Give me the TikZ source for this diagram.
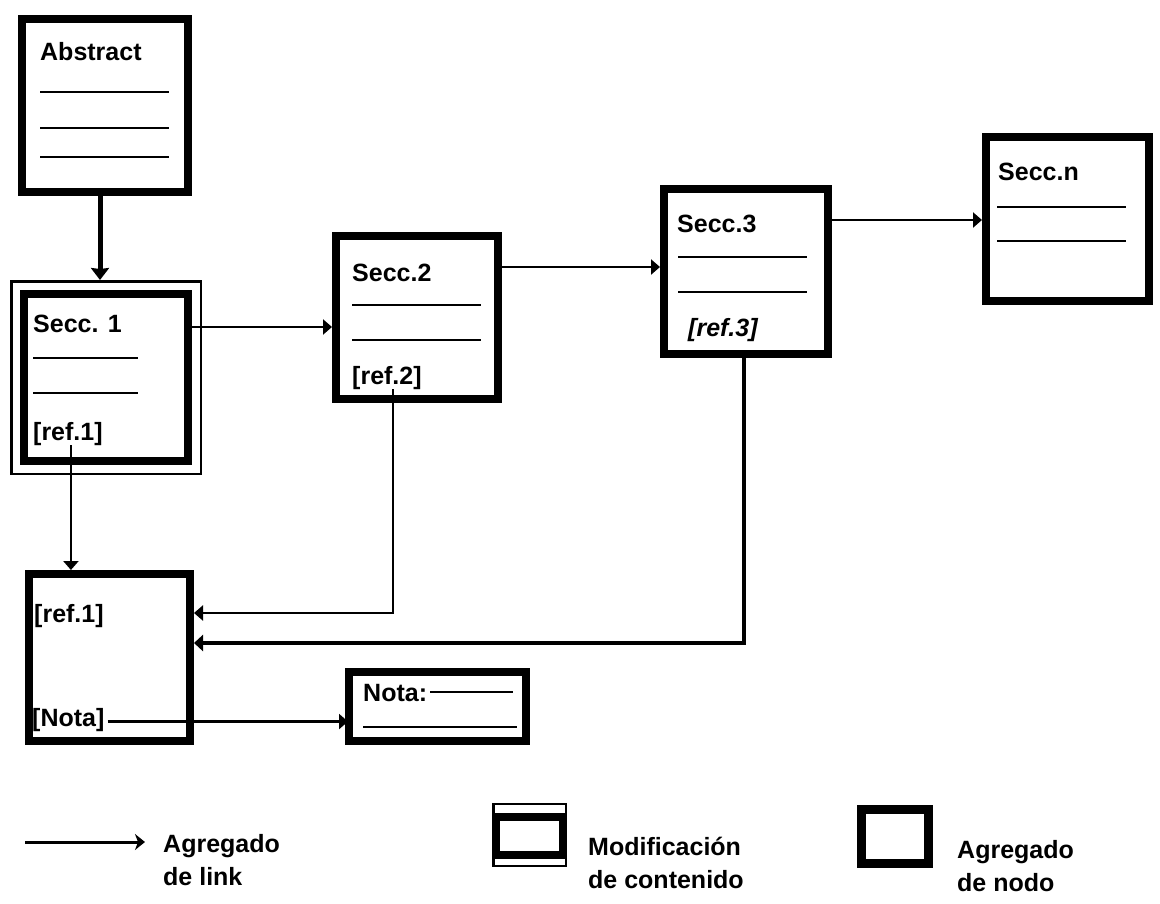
\documentclass[tikz,border=0pt]{standalone}
\usepackage{fontspec}
\setmainfont{Liberation Sans}
\usetikzlibrary{arrows.meta}
\begin{document}
\begin{tikzpicture}[x=1pt,y=-1pt,
  pagebox/.style={draw, line width=8pt, inner sep=0pt},
  thinframe/.style={draw, line width=2.5pt, inner sep=0pt},
  lbl/.style={anchor=base west, inner sep=0pt, font=\fontsize{25}{30}\selectfont\bfseries},
  legendtxt/.style={anchor=base west, inner sep=0pt, align=left,
    font=\fontsize{25}{33}\selectfont\bfseries},
  rule/.style={line width=2.5pt},
  link/.style={line width=2.5pt, -{Triangle[length=9pt,width=15pt]}},
  boldlink/.style={line width=4pt, line join=miter, -{Triangle[length=9pt,width=16pt]}},
  mainlink/.style={line width=5pt, -{Stealth[length=12pt,width=18pt,inset=1pt]}}
]
\useasboundingbox (0,0) rectangle (1160,903);

% ---------- boxes ----------
\node[pagebox, minimum width=166pt, minimum height=173pt] (abs) at (105,105.5) {};
\node[thinframe, minimum width=189.5pt, minimum height=192.5pt] (s1frame) at (106,377.5) {};
\node[pagebox, minimum width=164pt, minimum height=167pt] (s1) at (106,377.5) {};
\node[pagebox, minimum width=162pt, minimum height=163pt] (s2) at (417,317.5) {};
\node[pagebox, minimum width=164pt, minimum height=165pt] (s3) at (746,271.5) {};
\node[pagebox, minimum width=163pt, minimum height=164pt] (sn) at (1067.5,219) {};
\node[pagebox, minimum width=161pt, minimum height=167pt] (rb) at (109.5,657.5) {};
\node[pagebox, minimum width=177pt, minimum height=69pt] (nota) at (437.5,706.5) {};

% ---------- box contents ----------
\node[lbl] (tAbs) at (40,60) {Abstract};
\draw[rule] (40,92) -- (169,92);
\draw[rule] (40,128) -- (169,128);
\draw[rule] (40,157) -- (169,157);

\node[lbl] (tS1) at (33,332) {Secc. 1};
\draw[rule] (33,358) -- (138,358);
\draw[rule] (33,393) -- (138,393);
\node[lbl] (r1a) at (33,440) {[ref.1]};

\node[lbl] (tS2) at (352,281) {Secc.2};
\draw[rule] (352,305) -- (481,305);
\draw[rule] (352,340) -- (481,340);
\node[lbl] (r2) at (352,384) {[ref.2]};

\node[lbl] (tS3) at (677,232) {Secc.3};
\draw[rule] (678,257) -- (807,257);
\draw[rule] (678,292) -- (807,292);
\node[lbl, font=\fontsize{25}{30}\selectfont\bfseries\itshape] (r3) at (688,336) {[ref.3]};

\node[lbl] (tSn) at (998,180) {Secc.n};
\draw[rule] (997,207) -- (1126,207);
\draw[rule] (997,241) -- (1126,241);

\node[lbl] (r1b) at (34,622) {[ref.1]};
\node[lbl] (nt) at (32,726) {[Nota]};

\node[lbl] (tNota) at (363,701) {Nota:};
\draw[rule] ([xshift=3pt,yshift=9pt]tNota.base east) -- (513,692);
\draw[rule] (363,727) -- (517,727);

% ---------- connectors ----------
\draw[mainlink] ([xshift=-5pt]abs.south) -- ([xshift=-6pt]s1frame.north);
\draw[link] ([yshift=50.5pt]s1.east) -- ([yshift=50.5pt]s1.east -| s2.west);
\draw[link] ([yshift=50.5pt]s2.east) -- ([yshift=50.5pt]s2.east -| s3.west);
\draw[link] ([yshift=51.5pt]s3.east) -- ([yshift=51.5pt]s3.east -| sn.west);
\draw[link] ([xshift=3pt]r1a.south) -- ([xshift=3pt]r1a.south |- rb.north);
\draw[link] ([xshift=6pt]r2.south) |- ([yshift=44.5pt]rb.east);
\draw[boldlink] ([xshift=-2pt]s3.south) |- ([yshift=14.5pt]rb.east);
\draw[link] ([xshift=3pt,yshift=-2pt]nt.east) -- ([xshift=3pt,yshift=-2pt]nt.east -| nota.west);

% ---------- legend ----------
\coordinate (lgA) at (25,842);
\coordinate (lgB) at (145,842);
\draw[line width=3pt, -{Stealth[length=10pt,width=16pt,inset=3pt]}] (lgA) -- (lgB);
\node[legendtxt] (lgLink) at (163,885) {Agregado\\de link};

\node[thinframe, minimum width=72.5pt, minimum height=62pt] (lgModF) at (529.5,835) {};
\node[draw, line width=8pt, inner sep=0pt, minimum width=67pt, minimum height=38pt] (lgMod) at (529.5,835.5) {};
\node[legendtxt] (lgModT) at (588,888) {Modificación\\de contenido};

\node[draw, line width=9pt, inner sep=0pt, minimum width=67pt, minimum height=54pt] (lgNode) at (895,836.5) {};
\node[legendtxt] (lgNodeT) at (957,891) {Agregado\\de nodo};
\end{tikzpicture}
\end{document}
